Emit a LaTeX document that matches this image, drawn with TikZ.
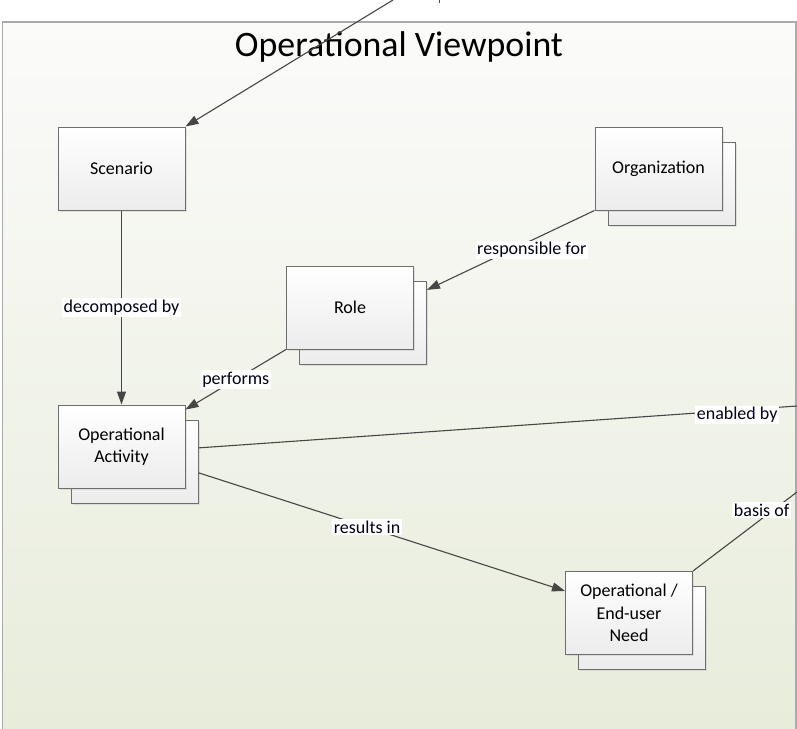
\documentclass[tikz,border=0pt]{standalone}
\usepackage{fontspec}
\setmainfont{Carlito}
\usetikzlibrary{arrows.meta,shadows}
\definecolor{framecol}{RGB}{170,170,170}
\definecolor{bgtop}{RGB}{251,251,250}
\definecolor{bgbot}{RGB}{231,236,218}
\definecolor{boxline}{RGB}{110,110,110}
\definecolor{boxbot}{RGB}{236,236,236}
\definecolor{linkcol}{RGB}{70,70,70}
\tikzset{
  panel/.style={draw=framecol, line width=1.6pt, top color=bgtop, bottom color=bgbot},
  entity/.style={rectangle, draw=boxline, line width=1pt, top color=white, bottom color=boxbot,
    minimum width=127pt, minimum height=83pt, align=center, inner sep=2pt,
    font=\fontsize{18}{22.5}\selectfont,
    drop shadow={opacity=0.18, shadow xshift=1.5pt, shadow yshift=-1.5pt}},
  link/.style={draw=linkcol, line width=1.1pt},
  arr/.style={link, -{Triangle[length=13pt,width=9pt]}},
  lab/.style={fill=white, inner sep=1.5pt, font=\fontsize{18}{20}\selectfont, text=black!90!blue},
  title/.style={font=\fontsize{35.8}{40}\selectfont}
}
\begin{document}
\begin{tikzpicture}[x=1pt,y=-1pt]
\useasboundingbox (0,0) rectangle (797,728);
% package frame
\path[panel] (2.5,22) rectangle (796,745);
\node[title] (ttl) at (399,47) {Operational Viewpoint};

% entities (stacked ones get a copy behind them)
\node[entity] (scen) at (121.5,168.5) {Scenario};
\node[entity] (orgb) at (671.5,183.5) {};
\node[entity] (org) at (658.5,168.5) {Organization};
\node[entity] (roleb) at (363,322.5) {};
\node[entity] (role) at (350,307.5) {Role};
\node[entity] (actb) at (134.5,461.5) {};
\node[entity] (act) at (121.5,446.5) {Operational\\Activity};
\node[entity] (needb) at (642,628) {};
\node[entity] (need) at (629,613) {Operational /\\End-user\\Need};

% free ends leaving the frame
\coordinate (inTop) at (393,0);
\coordinate (outEnabled) at (797,406);
\coordinate (outBasis) at (797,492);

% connectors
\draw[arr] (inTop) -- (scen.north east);
\draw[link] (439.5,0) -- (439.5,2.5);
\draw[arr] (scen.south) -- node[lab] {decomposed by} (act.north);
\draw[arr] (org.south west) -- node[lab, xshift=21pt] {responsible for} (roleb.27);
\draw[arr] (role.south west) -- node[lab] {performs} (act.30);
\draw[link] (actb.12) -- node[lab, pos=0.9, yshift=-5pt] {enabled by} (outEnabled);
\draw[arr] (actb.-10) -- node[lab, pos=0.46] {results in} (need.161);
\draw[link] (need.north east) -- node[lab, pos=0.66, yshift=9pt] {basis of} (outBasis);
\end{tikzpicture}
\end{document}
